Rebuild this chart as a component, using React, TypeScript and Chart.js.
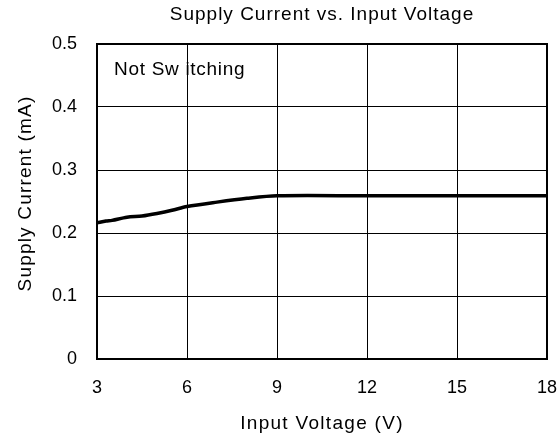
import React, { useEffect, useRef } from "react";
import { Chart, registerables } from "chart.js";

Chart.register(...registerables);

const chartTitle = "Supply Current vs. Input Voltage";
const xAxisTitle = "Input Voltage (V)";
const yAxisTitle = "Supply Current (mA)";
const noteText = "Not Sw itching";

const voltage = [3, 3.3, 3.5, 4, 4.5, 5, 5.5, 6, 7, 8, 9, 12, 15, 18];
const current = [0.216, 0.219, 0.220, 0.225, 0.227, 0.231, 0.236, 0.242, 0.249, 0.255, 0.259, 0.259, 0.259, 0.259];

const xTicks = { min: 3, max: 18, step: 3 };
const yTicks = { min: 0, max: 0.5, step: 0.1 };

const FONT = "'Liberation Sans', Arial, sans-serif";

export default function App() {
  const ref = useRef<HTMLCanvasElement | null>(null);

  useEffect(() => {
    if (!ref.current) return;

    const overlay = {
      id: "overlay",
      afterDraw(chart: any) {
        const { ctx, chartArea } = chart;
        const { left, right, top, bottom } = chartArea;
        ctx.save();
        ctx.strokeStyle = "#000";
        ctx.lineWidth = 2;
        ctx.strokeRect(left, top, right - left, bottom - top);
        ctx.fillStyle = "#000";
        ctx.font = `19px ${FONT}`;
        ctx.textBaseline = "middle";
        const cx = (left + right) / 2;

        ctx.letterSpacing = "1px";
        ctx.textAlign = "center";
        ctx.fillText(chartTitle, cx, 15);

        ctx.letterSpacing = "1.3px";
        ctx.fillText(xAxisTitle, cx, 424);

        ctx.save();
        ctx.translate(26, (top + bottom) / 2 - 8);
        ctx.rotate(-Math.PI / 2);
        ctx.letterSpacing = "1.2px";
        ctx.fillText(yAxisTitle, 0, 0);
        ctx.restore();

        ctx.letterSpacing = "0.7px";
        ctx.textAlign = "left";
        ctx.fillText(noteText, left + 17, top + 26);
        ctx.restore();
      },
    };

    const chart = new Chart(ref.current, {
      type: "line",
      data: {
        datasets: [
          {
            data: voltage.map((v, i) => ({ x: v, y: current[i] })),
            borderColor: "#000",
            borderWidth: 3.5,
            pointRadius: 0,
            tension: 0.3,
            fill: false,
          },
        ],
      },
      options: {
        animation: false,
        responsive: false,
        maintainAspectRatio: false,
        layout: { autoPadding: false, padding: { top: 44, right: 13, left: 0, bottom: 0 } },
        plugins: {
          legend: { display: false },
          title: { display: false },
          tooltip: { enabled: false },
        },
        scales: {
          x: {
            type: "linear",
            min: xTicks.min,
            max: xTicks.max,
            grid: { color: "#000", lineWidth: 1, drawTicks: false },
            border: { display: false },
            ticks: {
              stepSize: xTicks.step,
              color: "#000",
              padding: 18,
              font: { family: FONT, size: 18 },
            },
            title: { display: false },
            afterFit(scale: any) {
              scale.height = 81;
              scale.paddingLeft = 0;
              scale.paddingRight = 0;
            },
          },
          y: {
            min: yTicks.min,
            max: yTicks.max,
            grid: { color: "#000", lineWidth: 1, drawTicks: false },
            border: { display: false },
            ticks: {
              stepSize: yTicks.step,
              color: "#000",
              padding: 20,
              font: { family: FONT, size: 18 },
            },
            title: { display: false },
            afterFit(scale: any) {
              scale.width = 97;
              scale.paddingTop = 0;
              scale.paddingBottom = 0;
            },
          },
        },
      },
      plugins: [overlay],
    });

    return () => chart.destroy();
  }, []);

  return (
    <div style={{ position: "absolute", left: 0, top: 0, width: 560, height: 440, background: "#fff" }}>
      <canvas ref={ref} width={560} height={440} style={{ width: 560, height: 440 }} />
    </div>
  );
}
